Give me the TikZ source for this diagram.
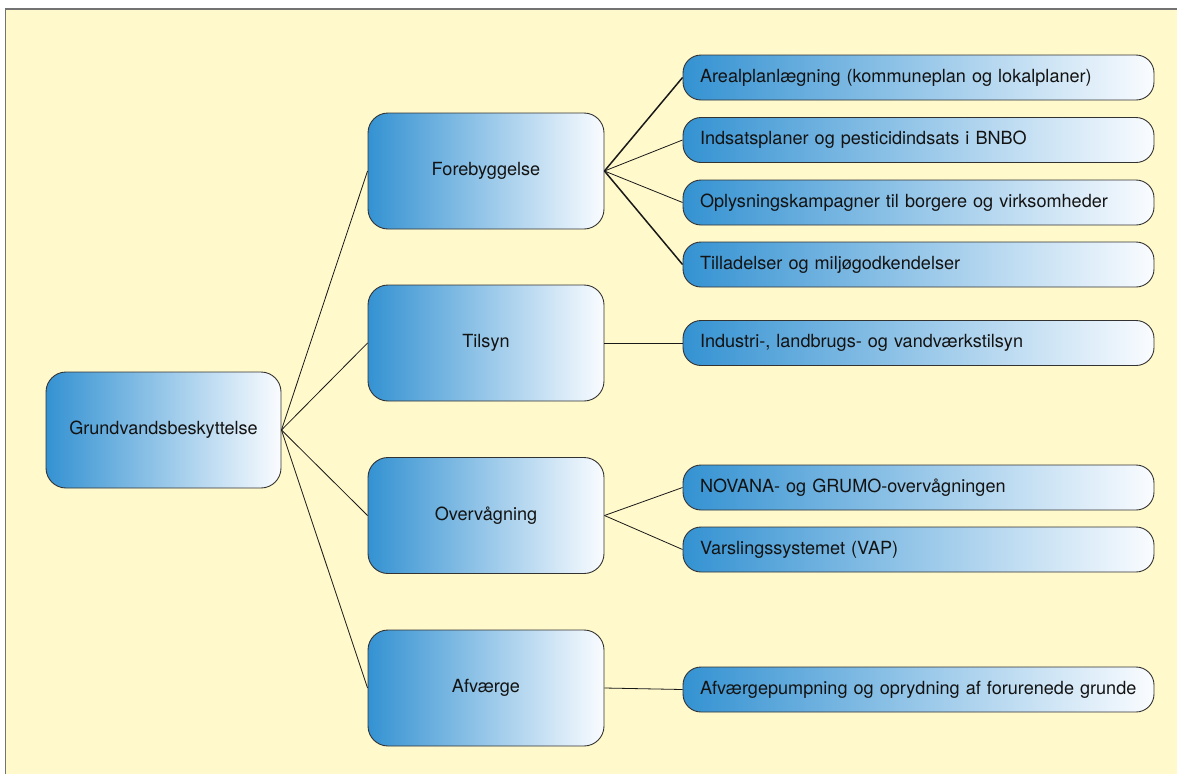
\documentclass[tikz,border=0pt]{standalone}
\usepackage{fontspec}
\setmainfont{TeX Gyre Heros}
\newcommand{\lpad}{\hspace*{17pt}}
\begin{document}
\begin{tikzpicture}[x=1pt,y=-1pt,
  every node/.style={inner sep=0pt},
  txt/.style={text=black!85!gray, font=\fontsize{18.1}{21}\selectfont},
  bigbox/.style={txt, draw=black!80, line width=0.9pt, rounded corners=20pt,
     left color=blueL, right color=blueR, minimum width=236pt, minimum height=116pt, align=center},
  leaf/.style={txt, draw=black!80, line width=0.9pt, rounded corners=18pt,
     left color=blueL, right color=blueR, minimum width=471pt, minimum height=45pt,
     text width=471pt, align=left},
  conn/.style={draw=black!90, line width=0.8pt},
  thick conn/.style={draw=black!90, line width=1.5pt}]
\definecolor{blueL}{HTML}{3492D2}
\definecolor{blueR}{HTML}{FAFCFF}
\definecolor{bgY}{HTML}{FFF9CC}
\useasboundingbox (0,0) rectangle (1177,774);
\fill[white] (0,0) rectangle (1177,774);
\fill[bgY] (5.5,9) rectangle (1177,774);
\draw[gray!90!black, line width=1.6pt] (5.5,774) -- (5.5,9) -- (1177,9);

\node[bigbox, minimum width=235pt] (root) at (163.5,430) {Grundvandsbeskyttelse};
\node[bigbox] (fore) at (486,171) {Forebyggelse};
\node[bigbox] (tils) at (486,343) {Tilsyn};
\node[bigbox] (over) at (486,515.5) {Overvågning};
\node[bigbox] (afv) at (486,688) {Afværge};

\node[leaf] (l1) at (918.5,77.5) {\lpad Arealplanlægning (kommuneplan og lokalplaner)};
\node[leaf] (l2) at (918.5,140) {\lpad Indsatsplaner og pesticidindsats i BNBO};
\node[leaf] (l3) at (918.5,202.5) {\lpad Oplysningskampagner til borgere og virksomheder};
\node[leaf] (l4) at (918.5,264.5) {\lpad Tilladelser og miljøgodkendelser};
\node[leaf] (l5) at (918.5,343) {\lpad Industri-, landbrugs- og vandværkstilsyn};
\node[leaf] (l6) at (918.5,487.5) {\lpad NOVANA- og GRUMO-overvågningen};
\node[leaf] (l7) at (918.5,549.5) {\lpad Varslingssystemet (VAP)};
\node[leaf] (l8) at (918.5,689.5) {\lpad Afværgepumpning og oprydning af forurenede grunde};

\draw[conn] (root.east) -- (fore.west);
\draw[conn] (root.east) -- (tils.west);
\draw[conn] (root.east) -- (over.west);
\draw[conn] (root.east) -- (afv.west);

\draw[thick conn] (fore.east) -- (l1.west);
\draw[conn] (fore.east) -- (l2.west);
\draw[conn] (fore.east) -- (l3.west);
\draw[thick conn] (fore.east) -- (l4.west);
\draw[conn] (tils.east) -- (l5.west);
\draw[conn] (over.east) -- (l6.west);
\draw[conn] (over.east) -- (l7.west);
\draw[conn] (afv.east) -- (l8.west);
\end{tikzpicture}
\end{document}
